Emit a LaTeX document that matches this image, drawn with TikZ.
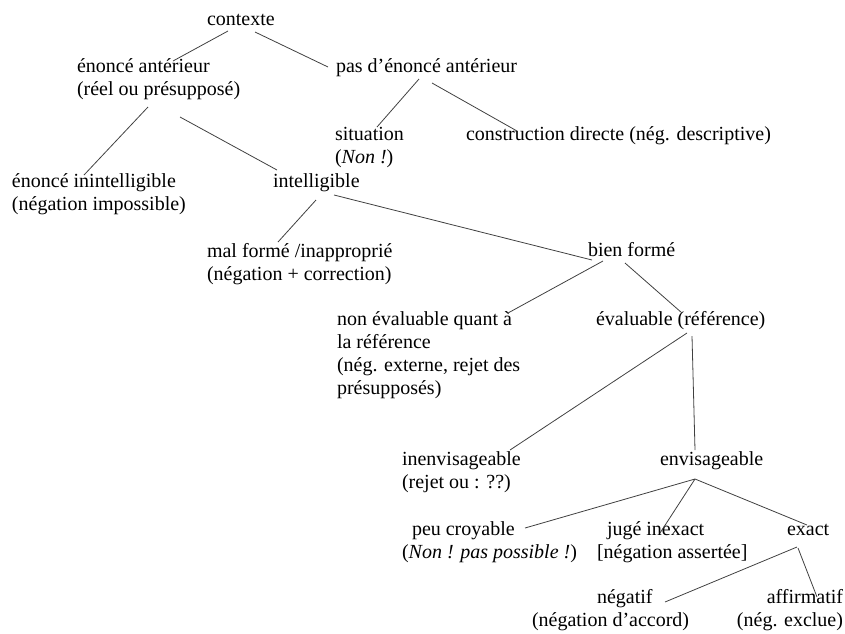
\documentclass[tikz,border=0pt]{standalone}
\usepackage{fontspec}
\setmainfont{Liberation Serif}
\tikzset{
  lbl/.style={inner sep=0pt, outer sep=0pt, anchor=base west, align=left, font=\fontsize{20}{23}\selectfont},
  lnk/.style={draw=black!75, line width=0.8pt}
}
\begin{document}
\begin{tikzpicture}[x=1pt,y=-1pt]
\useasboundingbox (0,0) rectangle (845,633);
% multi-line nodes are placed by the baseline of their last line
\node[lbl] (ctx) at (207,25) {contexte};
\node[lbl] (ea) at (77,95) {énoncé antérieur\\(réel ou présupposé)};
\node[lbl] (pas) at (336,72) {pas d’énoncé antérieur};
\node[lbl] (sit) at (335,163) {situation\\(\textit{Non !})};
\node[lbl] (cd) at (466,140) {construction directe (nég. descriptive)};
\node[lbl] (ei) at (12,210) {énoncé inintelligible\\(négation impossible)};
\node[lbl] (int) at (273,187) {intelligible};
\node[lbl] (mf) at (207,280) {mal formé /inapproprié\\(négation + correction)};
\node[lbl] (bf) at (588,256) {bien formé};
\node[lbl] (ne) at (337,394) {non évaluable quant à\\la référence\\(nég. externe, rejet des\\présupposés)};
\node[lbl] (ev) at (596,325) {évaluable (référence)};
\node[lbl] (inv) at (402,488) {inenvisageable\\(rejet ou : ??)};
\node[lbl] (env) at (660,465) {envisageable};
\node[lbl] (pc) at (402,558) {\hspace*{10pt}peu croyable\\(\textit{Non ! pas possible !})};
\node[lbl] (ji) at (597,558) {\hspace*{10pt}jugé inexact\\{}[négation assertée]};
\node[lbl] (ex) at (787,535) {exact};
\node[lbl] (neg) at (532,626) {\hspace*{65pt}négatif\\(négation d’accord)};
\node[lbl, anchor=base east, align=right] (aff) at (843,626) {affirmatif\\(nég. exclue)};

\draw[lnk] ([shift={(21,6)}]ctx.base west) -- ([shift={(96,-34)}]ea.base west);
\draw[lnk] ([shift={(48,7)}]ctx.base west) -- ([shift={(-8,-5)}]pas.base west);
\draw[lnk] ([shift={(71,12)}]ea.base west) -- ([shift={(72,-35)}]ei.base west);
\draw[lnk] ([shift={(103,22)}]ea.base west) -- ([shift={(4,-17)}]int.base west);
\draw[lnk] ([shift={(83,7)}]pas.base west) -- ([shift={(42,-36)}]sit.base west);
\draw[lnk] ([shift={(96,11)}]pas.base west) -- ([shift={(51,-9)}]cd.base west);
\draw[lnk] ([shift={(43,13)}]int.base west) -- ([shift={(71,-38)}]mf.base west);
\draw[lnk] ([shift={(61,8)}]int.base west) -- ([shift={(4,4)}]bf.base west);
\draw[lnk] ([shift={(15,5)}]bf.base west) -- ([shift={(171,-81)}]ne.base west);
\draw[lnk] ([shift={(37,7)}]bf.base west) -- ([shift={(86,-12)}]ev.base west);
\draw[lnk] ([shift={(91,8)}]ev.base west) -- ([shift={(108,-38)}]inv.base west);
\draw[lnk] ([shift={(96,11)}]ev.base west) -- ([shift={(35,-15)}]env.base west);
\draw[lnk] ([shift={(35,14)}]env.base west) -- ([shift={(123,-30)}]pc.base west);
\draw[lnk] ([shift={(35,14)}]env.base west) -- ([shift={(63,-25)}]ji.base west);
\draw[lnk] ([shift={(35,14)}]env.base west) -- ([shift={(20,-10)}]ex.base west);
\draw[lnk] ([shift={(10,12)}]ex.base west) -- ([shift={(133,-24)}]neg.base west);
\draw[lnk] ([shift={(11,13)}]ex.base west) -- ([shift={(-26,-29)}]aff.base east);
\end{tikzpicture}
\end{document}
